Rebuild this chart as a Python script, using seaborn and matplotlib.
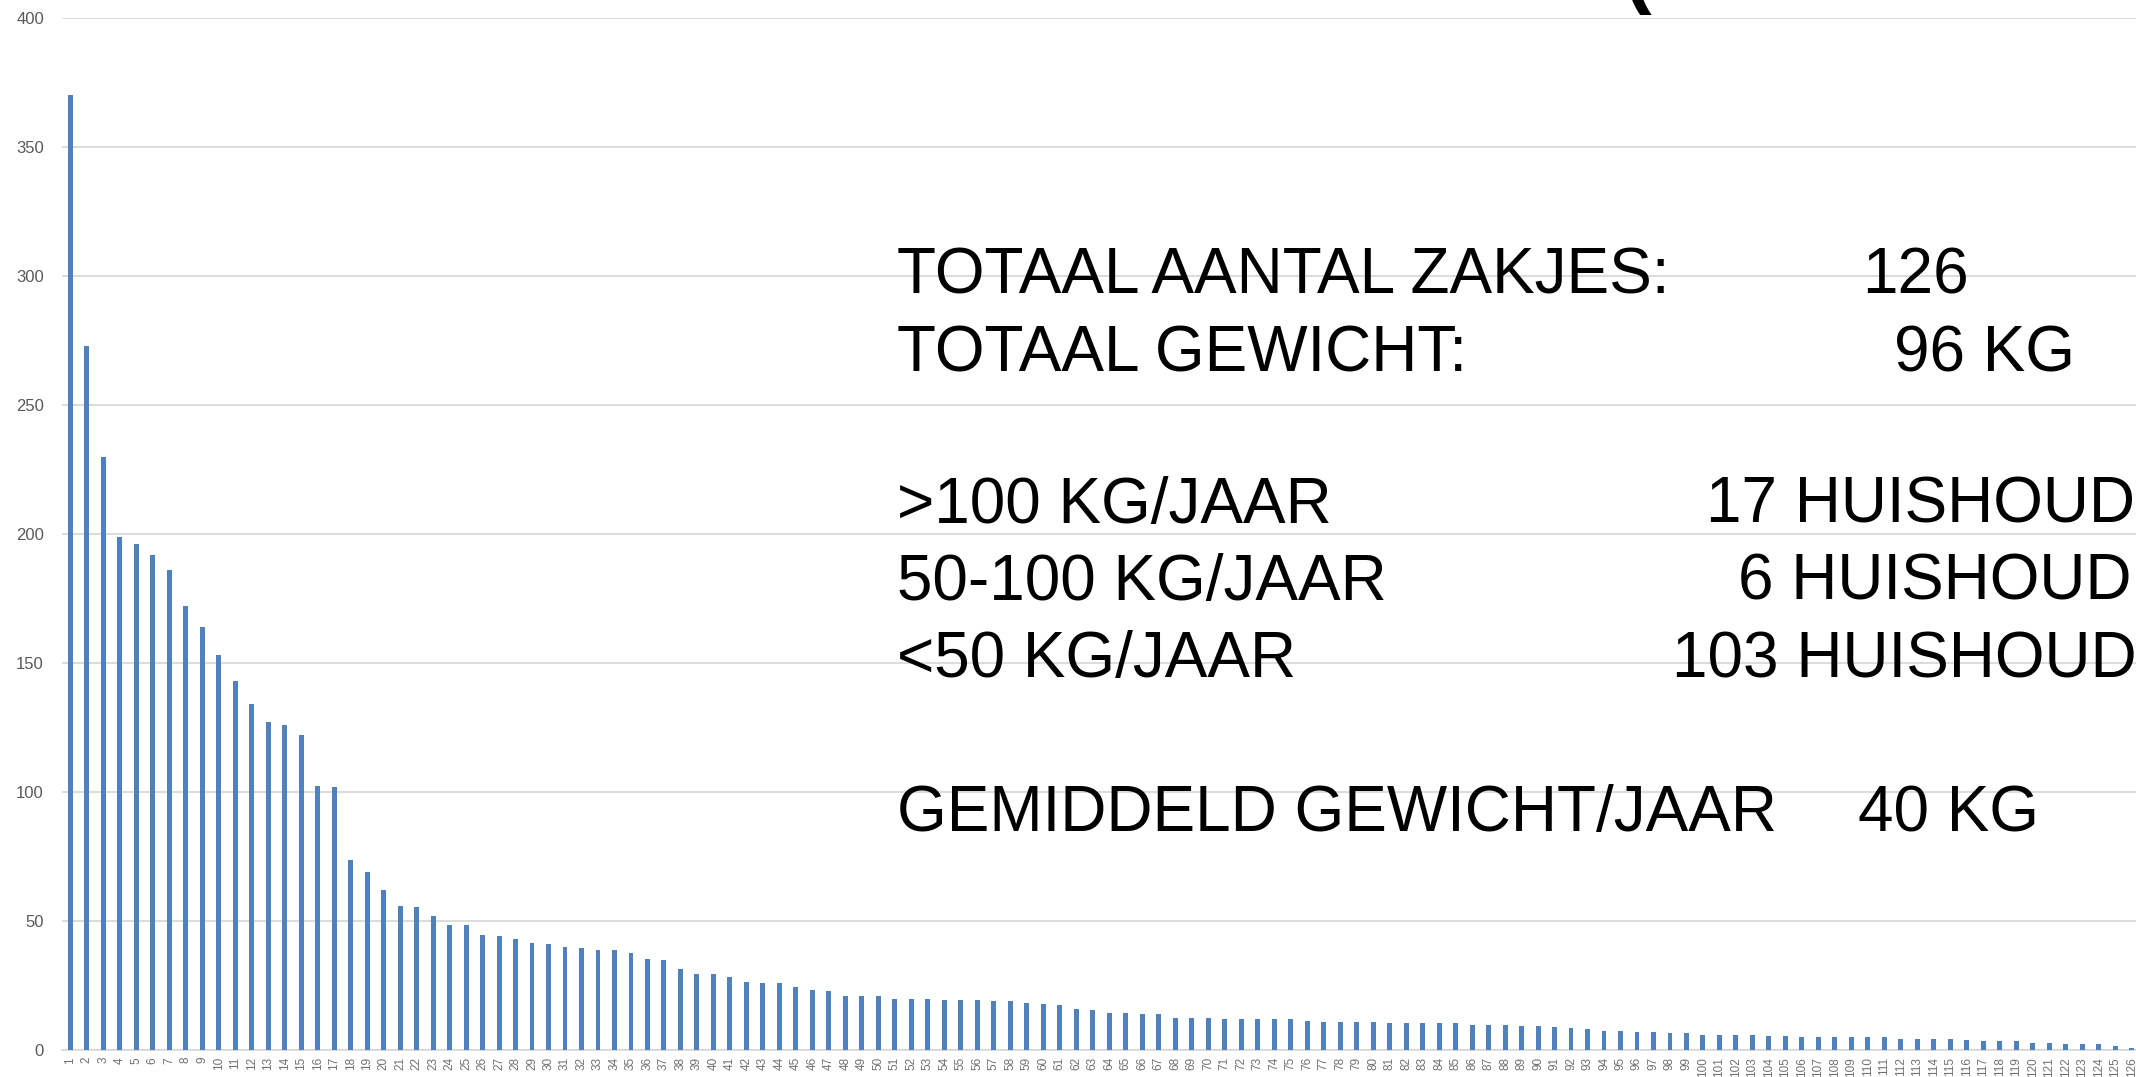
import matplotlib
matplotlib.use("Agg")
import matplotlib.pyplot as plt
import seaborn as sns

# huishoudens 1..126, gewicht in kg/jaar (gesorteerd)
households = [str(i) for i in range(1, 127)]
weights = [
    370, 273, 230, 199, 196, 192, 186, 172, 164, 153,
    143, 134, 127, 126, 122, 102.5, 102, 73.5, 69, 62,
    56, 55.5, 52, 48.5, 48.5, 44.5, 44, 43, 41.5, 41,
    40, 39.5, 38.7, 38.7, 37.7, 35.3, 34.8, 31.3, 29.3, 29.3,
    28.3, 26.4, 25.8, 25.8, 24.3, 23.4, 22.9, 20.9, 20.9, 20.9,
    19.9, 19.9, 19.9, 19.4, 19.4, 19.4, 18.9, 18.9, 18.3, 17.8,
    17.3, 15.9, 15.4, 14.3, 14.3, 13.8, 13.8, 12.4, 12.4, 12.4,
    11.9, 11.9, 11.9, 11.9, 11.9, 11.4, 10.9, 10.9, 10.9, 10.9,
    10.3, 10.3, 10.3, 10.3, 10.3, 9.8, 9.8, 9.8, 9.3, 9.3,
    9.0, 8.5, 8.0, 7.5, 7.5, 7.0, 7.0, 6.5, 6.5, 5.9,
    5.9, 5.9, 5.9, 5.4, 5.4, 4.9, 4.9, 4.9, 4.9, 4.9,
    4.9, 4.4, 4.4, 4.4, 4.4, 3.9, 3.4, 3.4, 3.4, 2.8,
    2.8, 2.3, 2.3, 2.3, 1.6, 0.8,
]
y_ticks = [0, 50, 100, 150, 200, 250, 300, 350, 400]

summary_left = [
    "TOTAAL AANTAL ZAKJES:", "TOTAAL GEWICHT:",
    ">100 KG/JAAR", "50-100 KG/JAAR", "<50 KG/JAAR",
    "GEMIDDELD GEWICHT/JAAR",
]
summary_right = ["126", "96 KG", "17 HUISHOUDENS", "6 HUISHOUDENS",
                 "103 HUISHOUDENS", "40 KG"]

sns.set_theme(style="white")
plt.rcParams['font.family'] = ['Liberation Sans', 'DejaVu Sans']

W, H = 2136, 1077
fig = plt.figure(figsize=(W / 100, H / 100), dpi=100)
ax = fig.add_axes([62 / W, 27 / H, (2140 - 62) / W, 1032 / H])

sns.barplot(x=households, y=weights, color="#4F81BD", saturation=1,
            width=0.3, linewidth=0, ax=ax, zorder=3)

ax.set_ylim(0, 400)
ax.set_xlim(-0.5, len(households) - 0.5)
ax.set_yticks(y_ticks)
ax.yaxis.grid(True, color="#d9d9d9", lw=1.3, zorder=0)
ax.set_axisbelow(True)
for s in ["left", "right", "top"]:
    ax.spines[s].set_visible(False)
ax.spines["bottom"].set_color("#d9d9d9")
ax.spines["bottom"].set_linewidth(1.3)
ax.tick_params(axis="y", length=0, pad=13, labelsize=12, labelcolor="#595959")
ax.tick_params(axis="x", length=0, pad=5, labelsize=8.5, labelcolor="#707070",
               labelrotation=90)
ax.set_xlabel("")
ax.set_ylabel("")

# tekstvak over de grafiek
baselines = [294, 371, 523, 600, 677, 831]
right_x = [1862, 1894, 1706, 1738, 1672, 1858]
for txt, bl in zip(summary_left, baselines):
    fig.text(897 / W, 1 - bl / H, txt, fontsize=46, color="black", va="baseline")
for txt, bl, x in zip(summary_right, baselines, right_x):
    fig.text(x / W, 1 - bl / H, txt, fontsize=46, color="black", va="baseline")

# afgesneden haakje van de titel boven de grafiek
fig.text(1624 / W, 1 + 2 / H, "(", fontsize=60, fontweight="bold",
         color="black", va="baseline")

fig.savefig("out.png", dpi=100)
